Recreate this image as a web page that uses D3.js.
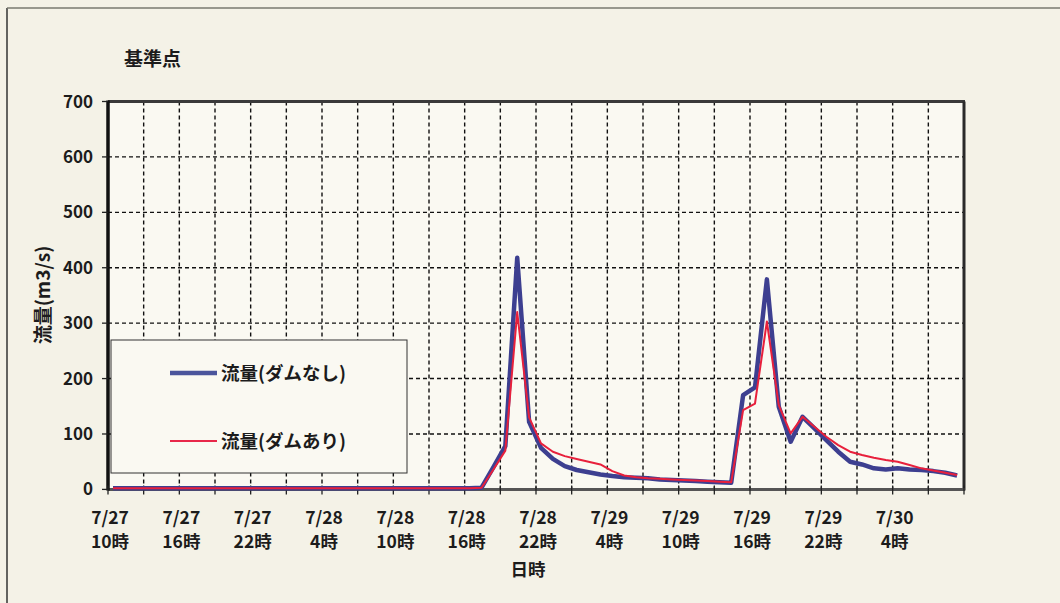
<!DOCTYPE html>
<html><head><meta charset="utf-8">
<script src="https://cdn.jsdelivr.net/npm/d3@7"></script>
<style>
html,body{margin:0;padding:0;background:#f4f2e7;}
svg{display:block;}
text{font-family:"Noto Sans CJK JP","Noto Sans",sans-serif;font-weight:bold;fill:#1c1c1c;}
</style></head><body>
<svg id="chart" width="1060" height="603"></svg>
<script>
// ---- data ----
const title = "基準点";
const yTitle = "流量(m3/s)";
const xTitle = "日時";
const seriesNames = ["流量(ダムなし)", "流量(ダムあり)"];
// hourly categories 7/27 10時 ... 7/30 9時 (72 hours)
const startDay = 27, startHour = 10, nHours = 72;
const categories = d3.range(nHours).map(k => {
  const h = startHour + k; return `7/${startDay + Math.floor(h / 24)} ${h % 24}時`;
});
const flowNoDam = [
  2,2,2,2,2,2,2,2,2,2, 2,2,2,2,2,2,2,2,2,2, 2,2,2,2,2,2,2,2,2,2, 2,
  3,40,78,418,122,75,55,42,35,31,27,24,22,21,20,18,17,16,15,14,13,12,
  170,184,379,149,86,131,110,89,68,50,45,38,36,38,36,35,33,30,25
];
const flowDam = [
  2,2,2,2,2,2,2,2,2,2, 2,2,2,2,2,2,2,2,2,2, 2,2,2,2,2,2,2,2,2,2, 2,
  3,36,70,320,130,83,68,60,55,50,45,33,25,22,20,19,18,17,16,15,14,13,
  143,155,303,152,101,131,113,95,80,68,62,57,53,50,44,38,34,30,26
];
const yTicks = [0,100,200,300,400,500,600,700];
const xTickLabels = [
  ["7/27","10時"],["7/27","16時"],["7/27","22時"],["7/28","4時"],
  ["7/28","10時"],["7/28","16時"],["7/28","22時"],["7/29","4時"],
  ["7/29","10時"],["7/29","16時"],["7/29","22時"],["7/30","4時"]
];

// ---- layout ----
const svg = d3.select("#chart");
const L = 108, R = 964, T = 101.5, B = 489.4;
const x = d3.scaleBand().domain(categories).range([L, R]).padding(0);
const xHour = d3.scaleLinear().domain([0, nHours]).range([L, R]);
const y = d3.scaleLinear().domain([0, 700]).range([B, T]);
const xc = (d, i) => x(categories[i]) + x.bandwidth() * 0.42;

// page frame lines
svg.append("line").attr("x1",7).attr("x2",7).attr("y1",8).attr("y2",603).attr("stroke","#333").attr("stroke-width",1.5);
svg.append("line").attr("x1",7).attr("x2",1060).attr("y1",8).attr("y2",8).attr("stroke","#7a7a70").attr("stroke-width",1.5);

// plot background
svg.append("rect").attr("x",L).attr("y",T).attr("width",R-L).attr("height",B-T).attr("fill","#faf9f2");

// grid
const g = svg.append("g");
g.selectAll(".hg").data(yTicks.filter(v => v > 0 && v < 700)).join("line")
  .attr("x1",L).attr("x2",R).attr("y1",d=>y(d)).attr("y2",d=>y(d))
  .attr("stroke","#111").attr("stroke-width",1.4).attr("stroke-dasharray","4,3");
const vTicks = d3.range(3, nHours, 3);
g.selectAll(".vg").data(vTicks).join("line")
  .attr("x1",d=>xHour(d)).attr("x2",d=>xHour(d)).attr("y1",T).attr("y2",B)
  .attr("stroke","#111").attr("stroke-width",1.4).attr("stroke-dasharray","4,3");

// legend box
const lg = svg.append("g");
lg.append("rect").attr("x",111).attr("y",340).attr("width",296).attr("height",133)
  .attr("fill","#faf9f2").attr("stroke","#333").attr("stroke-width",1);
lg.append("line").attr("x1",170).attr("x2",217).attr("y1",373).attr("y2",373).attr("stroke","#4b559c").attr("stroke-width",4.5);
lg.append("line").attr("x1",170).attr("x2",217).attr("y1",441).attr("y2",441).attr("stroke","#e8284a").attr("stroke-width",2);
lg.append("text").attr("x",221).attr("y",380).attr("font-size",18.5).text(seriesNames[0]);
lg.append("text").attr("x",221).attr("y",448).attr("font-size",18.5).text(seriesNames[1]);

// axes frame
svg.append("line").attr("x1",L).attr("x2",R+1).attr("y1",T).attr("y2",T).attr("stroke","#3a3a3a").attr("stroke-width",3);
svg.append("line").attr("x1",R).attr("x2",R).attr("y1",T).attr("y2",B+1).attr("stroke","#2a2a2a").attr("stroke-width",3);
svg.append("line").attr("x1",L).attr("x2",R+1).attr("y1",B).attr("y2",B).attr("stroke","#555").attr("stroke-width",3);
svg.append("line").attr("x1",L).attr("x2",L).attr("y1",T-1).attr("y2",B+1).attr("stroke","#111").attr("stroke-width",3.5);

// x tick marks
svg.selectAll(".xt").data(d3.range(0, nHours + 1, 3)).join("line")
  .attr("x1",d=>xHour(d)).attr("x2",d=>xHour(d)).attr("y1",B-4).attr("y2",B+5)
  .attr("stroke","#222").attr("stroke-width",1.3);
// y tick marks
svg.selectAll(".yt").data(yTicks).join("line")
  .attr("x1",L-6).attr("x2",L).attr("y1",d=>y(d)).attr("y2",d=>y(d))
  .attr("stroke","#222").attr("stroke-width",1.3);

// y tick labels
svg.selectAll(".yl").data(yTicks).join("text")
  .attr("x",93).attr("y",d=>y(d)+6).attr("text-anchor","end").attr("font-size",17)
  .text(d=>d);

// x tick labels
const xl = svg.selectAll(".xl").data(xTickLabels).join("text")
  .attr("text-anchor","middle").attr("font-size",17.5)
  .attr("transform",(d,i)=>`translate(${xHour(i*6)+2},0)`);
xl.append("tspan").attr("x",0).attr("y",524).text(d=>d[0]);
xl.append("tspan").attr("x",0).attr("y",548).text(d=>d[1]);

// titles
svg.append("text").attr("x",124).attr("y",66).attr("font-size",19).text(title);
svg.append("text").attr("x",528).attr("y",576).attr("text-anchor","middle").attr("font-size",17.5).text(xTitle);
svg.append("text").attr("transform","translate(50,295) rotate(-90)").attr("text-anchor","middle").attr("font-size",19).text(yTitle);

// series
const line = d3.line().x((d,i)=>xc(d,i)).y(d=>y(d));
svg.append("path").datum(flowNoDam).attr("d",line).attr("fill","none")
  .attr("stroke","#3d3f90").attr("stroke-width",4.5).attr("stroke-linejoin","round");
svg.append("path").datum(flowDam).attr("d",line).attr("fill","none")
  .attr("stroke","#e8203c").attr("stroke-width",2).attr("stroke-linejoin","round");
</script>
</body></html>
